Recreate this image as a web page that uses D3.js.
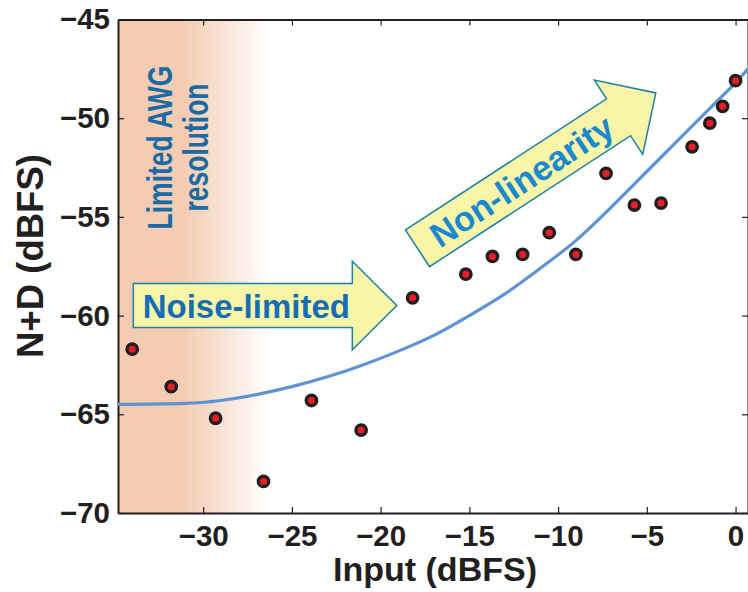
<!DOCTYPE html>
<html><head><meta charset="utf-8">
<script src="https://cdn.jsdelivr.net/npm/d3@7"></script>
<style>
body{margin:0;background:#fff}
svg{display:block}
text{font-family:"Liberation Sans",Arial,Helvetica,sans-serif;font-weight:bold}
</style>
</head><body>
<svg id="chart" width="748" height="592"></svg>
<script>
// Measured N+D at each input level
const inputLevels = [-34.0, -31.8, -29.3, -26.6, -23.9, -21.1, -18.2, -15.2, -13.7, -12.0, -10.5, -9.0, -7.3, -5.7, -4.2, -2.45, -1.45, -0.73, 0.0];
const measuredND  = [-61.7, -63.6, -65.2, -68.4, -64.3, -65.8, -59.1, -57.9, -57.0, -56.9, -55.8, -56.9, -52.8, -54.4, -54.3, -51.45, -50.25, -49.4, -48.1];
// Noise floor + distortion model curve
const modelInput = [-34.8, -31, -29, -27, -25, -23, -21, -19, -17, -15, -13, -11, -9, -7, -5, -3, -1, 0, 0.7];
const modelND    = [-64.5, -64.45, -64.3, -64.0, -63.6, -63.1, -62.5, -61.8, -61.0, -60.0, -58.9, -57.6, -56.2, -54.5, -52.7, -50.9, -49.1, -48.2, -47.5];
const xTicks = [-30, -25, -20, -15, -10, -5, 0];
const yTicks = [-45, -50, -55, -60, -65, -70];

const svg = d3.select("#chart");
const L = 118, R = 748, T = 19.5, B = 513;
const x = d3.scaleLinear().domain([-34.8, 0.7]).range([L, R]);
const y = d3.scaleLinear().domain([-70, -45]).range([B, T]);
const ink = "#231f20";

// shaded low-input region
const defs = svg.append("defs");
const grad = defs.append("linearGradient").attr("id", "awg").attr("x1", 0).attr("x2", 1).attr("y1", 0).attr("y2", 0);
grad.append("stop").attr("offset", "0%").attr("stop-color", "#f3ccb3");
grad.append("stop").attr("offset", "44%").attr("stop-color", "#f3ccb3");
grad.append("stop").attr("offset", "100%").attr("stop-color", "#ffffff");
defs.append("clipPath").attr("id", "plot").append("rect").attr("x", L).attr("y", T).attr("width", R - L).attr("height", B - T);

svg.append("rect").attr("x", L).attr("y", T).attr("width", x(-26.3) - L).attr("height", B - T).attr("fill", "url(#awg)");

// region label
const awgColor = "#1d6aa2";
[["Limited AWG", 171.5], ["resolution", 207.5]].forEach(([t, bx]) => {
  svg.append("text").attr("transform", `translate(${bx},147.5) rotate(-90) scale(1,1.3)`)
    .attr("text-anchor", "middle").attr("font-size", 26.5).attr("fill", awgColor).text(t);
});

// axes
const axG = svg.append("g").attr("color", ink);
axG.append("g").attr("transform", `translate(0,${B})`)
  .call(d3.axisBottom(x).tickValues(xTicks).tickSizeInner(-6).tickSizeOuter(0).tickPadding(12));
axG.append("g").attr("transform", `translate(0,${T})`)
  .call(d3.axisTop(x).tickValues(xTicks).tickSizeInner(-6).tickSizeOuter(0).tickFormat(""));
axG.append("g").attr("transform", `translate(${L},0)`)
  .call(d3.axisLeft(y).tickValues(yTicks).tickSizeInner(-6).tickSizeOuter(0).tickPadding(8));
axG.append("g").attr("transform", `translate(${R},0)`)
  .call(d3.axisRight(y).tickValues(yTicks).tickSizeInner(-6).tickSizeOuter(0).tickFormat(""));
axG.selectAll(".domain").attr("stroke-width", 2);
axG.selectAll(".tick line").attr("stroke-width", 1.2);
axG.selectAll(".tick text").attr("font-size", 29.5).attr("font-family", '"Liberation Sans",Arial,sans-serif').attr("font-weight", "bold").attr("fill", ink);

// model curve
const line = d3.line().x((d, i) => x(modelInput[i])).y(d => y(d)).curve(d3.curveMonotoneX);
svg.append("path").datum(modelND).attr("clip-path", "url(#plot)")
  .attr("d", line).attr("fill", "none").attr("stroke", "#5f93d5").attr("stroke-width", 3.2);

// measured points
svg.append("g").selectAll("circle").data(measuredND).join("circle")
  .attr("cx", (d, i) => x(inputLevels[i])).attr("cy", d => y(d))
  .attr("r", 5.2).attr("fill", "#ec1c24").attr("stroke", ink).attr("stroke-width", 3.4);

// annotation arrows
function arrowPath(len, head, w, W) {
  return `M0,${-w}L${len},${-w}L${len},${-W}L${len + head},0L${len},${W}L${len},${w}L0,${w}Z`;
}
function arrow(tx, ty, angle, len, label, color, tpos, fs) {
  const g = svg.append("g").attr("transform", `translate(${tx},${ty}) rotate(${angle})`);
  g.append("path").attr("d", arrowPath(len, 44.5, 22, 44.3))
    .attr("fill", "#f8f5a9").attr("stroke", "#1b7fa6").attr("stroke-width", 1.5).attr("stroke-linejoin", "miter");
  g.append("text").attr("x", tpos).attr("y", 12.5).attr("text-anchor", "middle")
    .attr("font-size", fs).attr("fill", color).text(label);
}
arrow(133.3, 305.5, 0, 219, "Noise-limited", "#166db4", 113, 33);
arrow(417.5, 248.3, -33.1, 240, "Non-linearity", "#1c89cf", 124, 34.5);

// axis titles
svg.append("text").attr("x", 435).attr("y", 581).attr("text-anchor", "middle")
  .attr("font-size", 34).attr("fill", ink).text("Input (dBFS)");
svg.append("text").attr("transform", "translate(43,256) rotate(-90)").attr("text-anchor", "middle")
  .attr("font-size", 36.5).attr("fill", ink).text("N+D (dBFS)");
</script>
</body></html>
